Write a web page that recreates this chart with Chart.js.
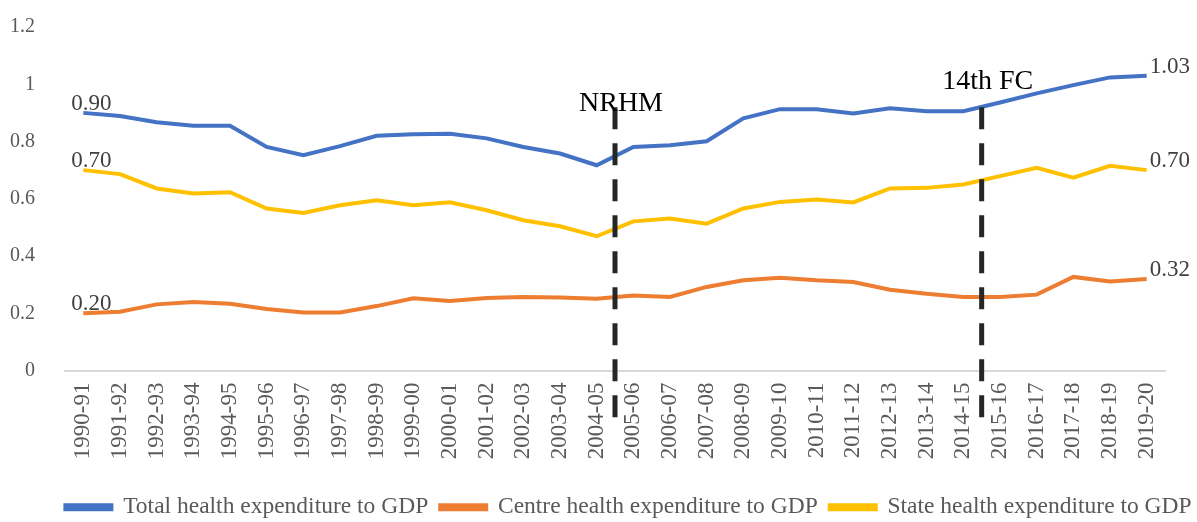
<!DOCTYPE html>
<html>
<head>
<meta charset="utf-8">
<script src="https://cdn.jsdelivr.net/npm/chart.js@4"></script>
<style>
  html, body { margin: 0; padding: 0; background: #fff; }
  #wrap { width: 1197px; height: 522px; }
</style>
</head>
<body>
<div id="wrap"><canvas id="chart" width="1197" height="522"></canvas></div>
<script>
// Years on the x axis
const categories = ['1990-91', '1991-92', '1992-93', '1993-94', '1994-95', '1995-96', '1996-97', '1997-98',
  '1998-99', '1999-00', '2000-01', '2001-02', '2002-03', '2003-04', '2004-05', '2005-06', '2006-07',
  '2007-08', '2008-09', '2009-10', '2010-11', '2011-12', '2012-13', '2013-14', '2014-15', '2015-16',
  '2016-17', '2017-18', '2018-19', '2019-20'];

// Health expenditure as % of GDP
const totalValues = [0.90, 0.889, 0.867, 0.855, 0.855, 0.781, 0.752, 0.784, 0.820, 0.825, 0.827, 0.811,
  0.781, 0.758, 0.717, 0.781, 0.787, 0.801, 0.881, 0.913, 0.913, 0.898, 0.916, 0.906, 0.906, 0.936,
  0.968, 0.997, 1.024, 1.03];
const centreValues = [0.20, 0.205, 0.231, 0.239, 0.233, 0.215, 0.203, 0.203, 0.225, 0.252, 0.243, 0.253,
  0.257, 0.255, 0.251, 0.262, 0.257, 0.292, 0.315, 0.324, 0.315, 0.309, 0.282, 0.268, 0.257, 0.257,
  0.265, 0.327, 0.311, 0.32];
const stateValues = [0.70, 0.686, 0.636, 0.618, 0.623, 0.566, 0.550, 0.577, 0.595, 0.577, 0.588, 0.560,
  0.525, 0.504, 0.469, 0.521, 0.531, 0.513, 0.566, 0.589, 0.597, 0.587, 0.636, 0.638, 0.650, 0.679,
  0.708, 0.674, 0.715, 0.70];

const seriesNames = ['Total health expenditure to GDP', 'Centre health expenditure to GDP', 'State health expenditure to GDP'];
const seriesColors = ['#4472C4', '#ED7D31', '#FFC000'];

// Y axis ticks
const yTicks = [0, 0.2, 0.4, 0.6, 0.8, 1, 1.2];

// Policy markers: dashed line drawn between the named year and the next one
const markerLabels = ['NRHM', '14th FC'];
const markerAfter = ['2004-05', '2014-15'];
const markerTop = [0.92, 0.92];
const markerTextY = [0.934, 1.01];

const fontFamily = '"Liberation Serif", "DejaVu Serif", serif';

// Draws the dashed markers, their names and the end-point value labels
const extrasPlugin = {
  id: 'extras',
  afterLayout(chart) {
    // legend sits a little right of centre in the original
    chart.legend.left += 46;
    chart.legend.right += 46;
  },
  afterDatasetsDraw(chart) {
    const ctx = chart.ctx;
    const x = chart.scales.x;
    const y = chart.scales.y;

    // End point labels
    ctx.save();
    ctx.font = '23px ' + fontFamily;
    ctx.fillStyle = '#404040';
    ctx.textBaseline = 'middle';
    chart.data.datasets.forEach((ds, i) => {
      const meta = chart.getDatasetMeta(i);
      const first = meta.data[0];
      const last = meta.data[meta.data.length - 1];
      ctx.textAlign = 'left';
      ctx.fillText(ds.data[0].toFixed(2), first.x - 12, first.y - 9);
      ctx.fillText(ds.data[ds.data.length - 1].toFixed(2), last.x + 3, last.y - 9);
    });
    ctx.restore();

    // Dashed policy lines
    markerLabels.forEach((label, i) => {
      const idx = categories.indexOf(markerAfter[i]);
      const px = (x.getPixelForValue(idx) + x.getPixelForValue(idx + 1)) / 2;
      ctx.save();
      ctx.strokeStyle = '#262626';
      ctx.lineWidth = 5;
      ctx.setLineDash([22, 14]);
      ctx.beginPath();
      ctx.moveTo(px, y.getPixelForValue(markerTop[i]));
      ctx.lineTo(px, chart.chartArea.bottom + 56);
      ctx.stroke();
      ctx.restore();

      ctx.save();
      ctx.font = '28px ' + fontFamily;
      ctx.fillStyle = '#000';
      ctx.textAlign = 'center';
      ctx.textBaseline = 'middle';
      ctx.fillText(label, px + 6, y.getPixelForValue(markerTextY[i]));
      ctx.restore();
    });
  }
};

const chart = new Chart(document.getElementById('chart'), {
  type: 'line',
  data: {
    labels: categories,
    datasets: [totalValues, centreValues, stateValues].map((vals, i) => ({
      label: seriesNames[i],
      data: vals,
      borderColor: seriesColors[i],
      backgroundColor: seriesColors[i],
      borderWidth: 4,
      pointRadius: 0,
      tension: 0,
      fill: false
    }))
  },
  options: {
    responsive: false,
    animation: false,
    layout: { padding: { left: 0, right: 32, top: 27, bottom: -7 } },
    plugins: {
      legend: {
        position: 'bottom',
        labels: {
          boxWidth: 46,
          boxHeight: 4,
          padding: 12,
          color: '#595959',
          font: { family: fontFamily, size: 23.5 }
        }
      },
      tooltip: { enabled: false }
    },
    scales: {
      x: {
        offset: true,
        afterFit: scale => { scale.height = 113; },
        grid: { display: false, drawTicks: false },
        border: { display: true, color: '#D9D9D9', width: 2 },
        ticks: {
          minRotation: 90,
          maxRotation: 90,
          autoSkip: false,
          padding: 12,
          color: '#595959',
          font: { family: fontFamily, size: 23 }
        }
      },
      y: {
        min: 0,
        max: 1.2,
        afterBuildTicks: scale => { scale.ticks = yTicks.map(v => ({ value: v })); },
        afterFit: scale => {
          scale.width = 65;
          scale.paddingTop = 0;
          scale.paddingBottom = 0;
        },
        grid: { display: false, drawTicks: false },
        border: { display: false },
        ticks: {
          padding: 30,
          color: '#595959',
          font: { family: fontFamily, size: 20 },
          callback: v => String(v)
        }
      }
    }
  },
  plugins: [extrasPlugin]
});
</script>
</body>
</html>
